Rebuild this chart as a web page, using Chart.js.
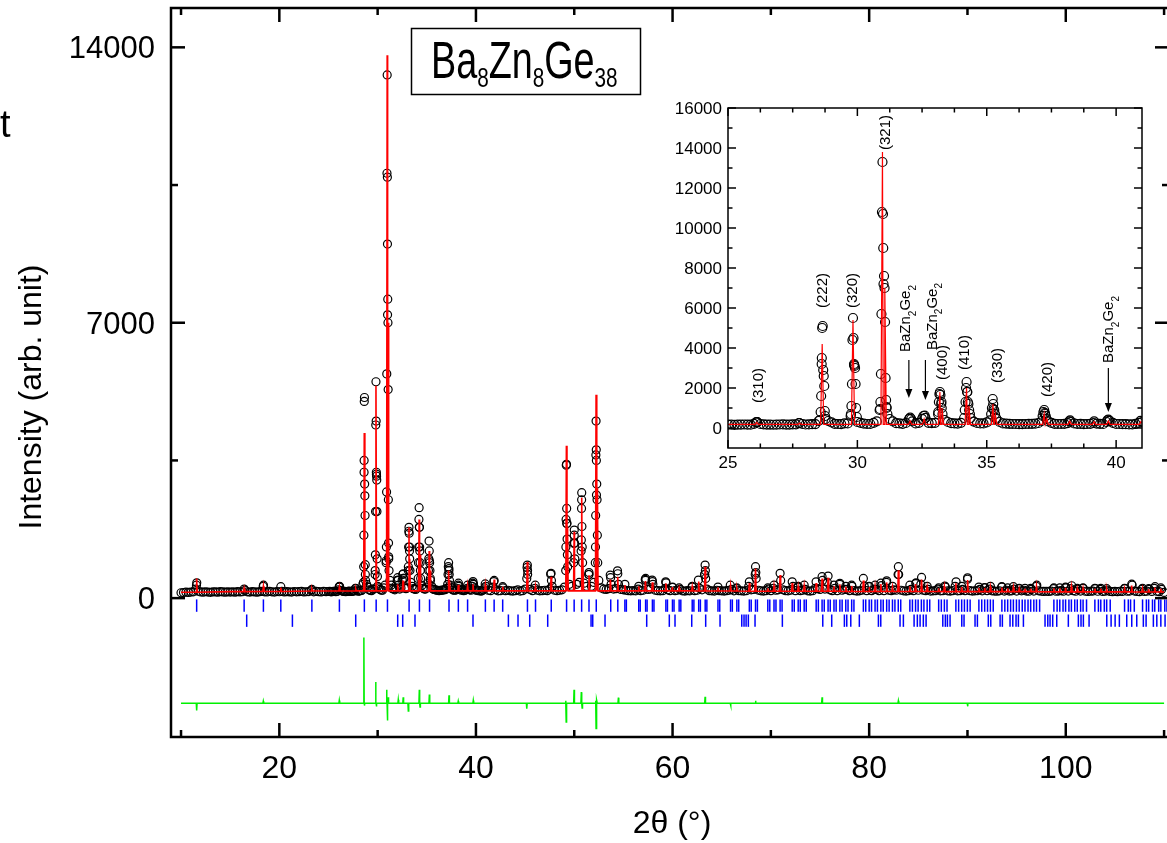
<!DOCTYPE html>
<html>
<head>
<meta charset="utf-8">
<script src="https://cdn.jsdelivr.net/npm/chart.js@4.4.0/dist/chart.umd.min.js"></script>
<style>
  html, body { margin: 0; padding: 0; background: #fff; overflow: hidden; }
  #wrap { position: relative; width: 1167px; height: 843px; overflow: hidden; }
  #main { position: absolute; left: 0; top: 0; }
  #inset { position: absolute; left: 650px; top: 90px; }
</style>
</head>
<body>
<div id="wrap">
  <canvas id="main" width="1172" height="843"></canvas>
  <canvas id="inset" width="510" height="390"></canvas>
</div>
<script>
const FONT = '"Liberation Sans", Arial, Helvetica, sans-serif';

// observed counts on the 2θ scan grid (10° .. 110°, 0.25° apart)
const scanStart = 10, scanStep = 0.25;
const obsScan = [
  136,142,150,146,155,160,230,175,158,150,162,155,148,160,157,150,163,158,152,160,
  155,160,150,165,158,162,200,160,155,163,158,150,165,170,160,158,172,160,155,166,
  162,170,158,165,160,155,168,160,163,170,158,162,167,200,160,172,165,158,170,163,
  168,160,172,165,210,200,170,162,175,168,180,240,175,190,350,600,280,200,230,700,
  300,220,200,330,9000,450,240,210,450,230,460,260,260,1300,300,230,260,1800,320,230,
  280,1200,300,220,200,190,200,210,250,750,260,200,210,300,200,190,210,220,200,350,
  200,190,180,210,300,200,190,280,210,185,190,260,190,200,185,180,190,210,180,190,
  230,700,220,190,250,200,185,190,200,190,230,300,200,190,200,210,280,1900,350,300,
  1600,350,400,2500,380,300,600,300,400,3500,450,260,230,220,240,350,230,240,350,220,
  210,200,190,185,190,185,230,190,200,450,220,230,350,200,190,185,190,250,210,190,
  270,190,200,220,185,180,190,185,280,190,200,250,210,600,230,190,185,180,200,190,
  185,180,190,200,220,185,240,190,185,180,190,300,210,220,500,200,185,180,190,230,
  190,250,200,210,450,210,190,185,200,300,190,280,190,200,220,185,180,190,250,240,
  220,450,230,400,210,190,250,190,350,200,220,220,190,300,190,180,185,200,300,190,
  290,190,220,220,190,320,190,400,200,190,210,200,600,200,185,180,190,220,190,370,
  200,350,200,190,220,180,185,190,230,185,190,280,185,180,190,300,185,190,220,190,
  480,190,180,185,190,220,185,260,190,230,185,180,175,185,280,180,200,180,185,230,
  180,240,185,200,180,175,220,180,300,185,175,170,175,170,180,240,175,180,190,175,
  260,180,240,190,175,220,180,250,175,170,175,180,240,175,220,170,175,200,170,165,
  170,165,175,170,240,175,180,330,180,170,165,220,170,175,220,170,250,175,165,220,
  145
];
// the 25°-41° stretch was also counted half-way between grid steps (25.125 .. 40.875)
const halfStart = 25.125;
const obsHalf = [
  170,165,175,168,290,185,172,168,178,170,182,200,178,195,3500,350,210,190,230,3150,
  260,200,260,950,1050,330,230,250,330,260,500,240,800,400,240,220,500,500,250,230,
  380,450,230,210,200,195,205,215,350,330,210,200,240,230,210,200,250,210,300,260,
  200,190,185,260
];

// extra observed points on the peak profiles [2θ, counts]
const peakObs = [
  [11.57, 330], [11.60, 390], [16.42, 230], [18.36, 300], [18.39, 330], [20.15, 290], [23.31, 220],
  [26.08, 280], [26.12, 300], [27.75, 250],
  [28.55, 400], [28.58, 800], [28.60, 1600], [28.62, 3200], [28.64, 5000], [28.66, 5100], [28.68, 2900],
  [28.70, 2600], [28.72, 2100], [28.74, 850], [28.77, 450],
  [29.74, 600], [29.77, 1100], [29.79, 2200], [29.81, 4400], [29.83, 5500], [29.85, 4500], [29.87, 3200],
  [29.89, 3100], [29.91, 3000], [29.93, 2200], [29.95, 1000], [29.98, 550],
  [30.86, 900], [30.89, 1300], [30.91, 2700], [30.93, 5700], [30.95, 10800], [30.97, 13300], [30.99, 10700],
  [31.01, 7200], [31.03, 7600], [31.05, 7000], [31.07, 5300], [31.09, 2500], [31.11, 1400], [31.13, 1000], [31.16, 700],
  [32.00, 450], [32.04, 520], [32.08, 450], [32.55, 600], [32.60, 620], [32.63, 500],
  [33.12, 700], [33.15, 1300], [33.17, 1700], [33.19, 1800], [33.21, 1650], [33.24, 1200], [33.26, 1000], [33.29, 700],
  [34.15, 900], [34.18, 1300], [34.20, 2000], [34.22, 2300], [34.24, 1800], [34.27, 1300], [34.29, 1200], [34.32, 900], [34.35, 700],
  [35.17, 700], [35.20, 1000], [35.23, 1450], [35.26, 950], [35.29, 900], [35.32, 700], [35.36, 500],
  [37.16, 600], [37.19, 800], [37.22, 900], [37.25, 700], [37.28, 600], [37.31, 450],
  [38.19, 330], [38.22, 380], [39.15, 330], [39.66, 380], [39.70, 420], [39.74, 360], [40.94, 360],
  [41.82, 420], [41.85, 450], [42.72, 290],
  [45.17, 500], [45.20, 780], [45.23, 840], [45.26, 600], [46.03, 330], [47.60, 610], [47.64, 630], [47.68, 450],
  [49.13, 700], [49.15, 1300], [49.17, 2000], [49.19, 3380], [49.21, 3400], [49.23, 2280], [49.25, 1900],
  [49.27, 1500], [49.30, 1100], [49.33, 800],
  [49.94, 900], [49.97, 1390], [50.00, 1730], [50.03, 1400], [50.06, 1000],
  [50.70, 1200], [50.72, 1480], [50.74, 2280], [50.76, 2680], [50.78, 1820], [50.81, 1300], [50.85, 900],
  [51.47, 600], [51.50, 650],
  [52.14, 900], [52.16, 1300], [52.18, 2100], [52.20, 3640], [52.22, 4500], [52.24, 3770], [52.26, 2620],
  [52.29, 2900], [52.32, 2500], [52.35, 1600], [52.39, 900],
  [53.66, 585], [53.70, 520], [54.40, 695], [54.43, 620], [55.15, 350], [56.56, 300],
  [57.22, 475], [57.26, 500], [57.92, 460], [57.95, 420], [59.30, 415], [59.34, 390],
  [59.99, 280], [60.67, 260], [62.00, 300], [62.63, 460],
  [63.28, 600], [63.31, 840], [63.34, 700], [63.37, 500],
  [64.62, 280], [65.87, 330], [66.54, 260], [67.81, 415], [68.41, 600], [68.44, 800], [68.47, 650],
  [69.69, 260], [70.32, 330], [70.94, 630], [72.17, 415], [72.78, 300], [73.39, 330],
  [74.60, 415], [75.21, 545], [75.82, 560], [76.42, 330], [77.02, 375], [77.62, 300], [78.22, 330],
  [79.41, 500], [80.00, 300], [80.60, 330], [81.19, 380], [81.78, 440], [82.37, 300], [82.94, 600], [82.97, 800],
  [84.14, 330], [84.77, 390], [85.33, 525], [85.90, 300], [87.07, 260], [87.70, 305],
  [88.84, 415], [89.41, 300], [90.01, 515], [91.16, 280], [91.75, 270], [92.33, 300],
  [93.49, 290], [94.09, 260], [94.67, 290], [95.26, 250], [95.85, 250], [96.43, 250], [97.05, 330],
  [98.79, 260], [99.39, 260], [99.98, 280], [100.60, 315], [101.17, 250], [101.76, 260],
  [102.96, 250], [103.56, 250], [104.16, 240], [105.98, 250], [106.71, 355], [107.81, 250],
  [108.43, 240], [109.08, 290], [109.67, 260]
];

// calculated profile: background knots and peak maxima [2θ, counts]
const calcBase = [
  [10, 150], [15, 165], [20, 170], [25, 180], [30, 185], [35, 185], [40, 185], [45, 185], [50, 185],
  [55, 185], [60, 185], [65, 180], [70, 175], [75, 175], [80, 170], [85, 170], [90, 165], [95, 165],
  [100, 160], [105, 160], [110, 155]
];
const calcPeaks = [
  [11.59, 500], [16.42, 250], [18.38, 300], [20.15, 270], [23.31, 230], [26.11, 280], [27.77, 240],
  [28.64, 4200], [29.83, 5400], [30.97, 13800], [31.06, 7000],
  [32.04, 350], [32.58, 450], [33.19, 1800], [33.27, 1000], [34.22, 2000], [34.31, 1100],
  [35.24, 1200], [35.33, 700], [37.22, 700], [37.32, 450], [38.21, 340], [39.15, 320], [39.70, 350],
  [40.96, 330], [41.85, 475], [42.72, 290], [45.22, 920], [46.06, 300], [47.64, 545],
  [49.20, 3870], [49.32, 1800], [49.99, 1690], [50.76, 2550], [50.88, 1300], [51.50, 580],
  [52.22, 5170], [52.36, 2790], [53.68, 475], [54.42, 545], [55.15, 330], [56.56, 300],
  [57.24, 435], [57.95, 400], [59.32, 375], [59.99, 280], [60.67, 260], [62.00, 290], [62.66, 420],
  [63.31, 800], [64.62, 270], [65.90, 320], [66.54, 250], [67.81, 380], [68.44, 755],
  [69.69, 250], [70.32, 310], [70.94, 585], [72.17, 380], [72.78, 290], [73.39, 310],
  [74.61, 380], [75.21, 500], [75.82, 520], [76.42, 300], [77.02, 350], [77.62, 290], [78.22, 310],
  [79.41, 450], [80.00, 280], [80.60, 300], [81.19, 360], [81.78, 400], [82.37, 280], [82.97, 710],
  [84.14, 300], [84.72, 360], [85.33, 475], [85.90, 280], [87.07, 250], [87.65, 290],
  [88.82, 380], [89.41, 280], [90.01, 460], [91.16, 260], [91.75, 260], [92.33, 280],
  [93.50, 270], [94.09, 250], [94.67, 270], [95.26, 240], [95.85, 240], [96.43, 240], [97.02, 300],
  [98.79, 250], [99.39, 250], [99.98, 260], [100.57, 290], [101.17, 240], [101.76, 250],
  [102.96, 240], [103.56, 240], [104.16, 230], [105.98, 240], [106.70, 320], [107.81, 240],
  [108.43, 230], [109.05, 270], [109.67, 240]
];

// obs - calc, plotted below the pattern
const diffOffset = -2670;
const diffPeaks = [
  [11.59, -185], [18.37, 50], [26.10, 70],
  [28.60, 1670], [28.67, -60], [29.80, 540], [29.87, -85],
  [30.92, 340], [30.98, -440], [31.07, 150],
  [32.10, 90], [32.60, 150], [33.12, -200], [34.24, 340], [34.31, -100], [35.26, 220],
  [37.26, 200], [38.20, 50], [39.73, 70], [45.17, -140],
  [49.12, 60], [49.18, -480], [49.98, 340], [50.72, 280], [50.80, -120],
  [52.17, 60], [52.22, -645], [52.30, 80], [54.49, 140],
  [63.31, 160], [65.90, -60], [68.44, 60], [75.21, 150], [82.97, 60], [90.01, -80]
];

// Bragg positions: Ba8Zn8Ge38 (Kα1, Kα2) and BaZn2Ge2
const braggKa1 = [
  11.59, 16.42, 18.38, 20.15, 23.31, 26.11, 28.65, 29.85, 31.00, 33.20, 34.25, 35.28, 37.26, 38.21, 39.15,
  40.96, 41.85, 42.72, 45.24, 46.06, 47.66, 49.22, 49.99, 50.75, 51.50, 52.24, 53.71, 54.43, 55.15, 56.56,
  57.26, 57.95, 59.32, 59.99, 60.67, 62.00, 62.66, 63.32, 64.62, 65.90, 66.54, 67.81, 68.44, 69.69, 70.32,
  70.94, 72.17, 72.78, 73.39, 74.61, 75.21, 75.82, 76.42, 77.02, 77.62, 78.22, 79.41, 80.00, 80.60, 81.19,
  81.78, 82.37, 82.96, 84.14, 84.72, 85.31, 85.90, 87.07, 87.65, 88.82, 89.41, 89.99, 91.16, 91.75, 92.33,
  93.50, 94.09, 94.67, 95.26, 95.85, 96.43, 97.02, 98.79, 99.39, 99.98, 100.57, 101.17, 101.76, 102.96,
  103.56, 104.16, 105.98, 106.59, 107.81, 108.43, 109.05, 109.67, 110.29
];
const braggKa2 = [
  55.30, 56.71, 57.41, 58.11, 59.48, 60.15, 60.84, 62.17, 62.83, 63.49, 64.80, 66.08, 66.73, 68.00, 68.63,
  69.89, 70.52, 71.14, 72.38, 72.99, 73.60, 74.83, 75.43, 76.04, 76.64, 77.25, 77.85, 78.45, 79.65, 80.24,
  80.84, 81.43, 82.03, 82.62, 83.21, 84.40, 84.98, 85.57, 86.16, 87.34, 87.92, 89.10, 89.69, 90.27, 91.45,
  92.04, 92.62, 93.80, 94.39, 94.98, 95.57, 96.16, 96.75, 97.34, 99.12, 99.72, 100.32, 100.91, 101.51,
  102.11, 103.32, 103.92, 104.52, 106.36, 106.97, 108.20, 108.82, 109.45, 110.07
];
const braggSecond = [
  16.68, 21.33, 27.77, 32.04, 32.55, 33.80, 39.70, 43.30, 44.28, 45.47, 47.30, 51.71, 51.88, 53.13, 57.37,
  59.67, 60.25, 61.95, 63.37, 64.83, 67.04, 67.27, 67.48, 67.71, 68.39, 71.17, 75.28, 76.19, 77.48, 77.72,
  78.13, 79.00, 80.94, 81.18, 83.14, 83.48, 84.57, 84.90, 85.18, 85.51, 85.79, 87.49, 87.75, 87.96, 88.23,
  89.42, 89.65, 90.77, 91.01, 92.12, 92.37, 93.32, 93.55, 94.33, 94.61, 94.94, 95.18, 95.69, 97.89, 98.17,
  98.40, 98.67, 99.08, 100.26, 101.28, 101.55, 101.79, 102.37, 104.17, 104.61, 105.02, 105.45, 106.20,
  106.71, 107.22, 107.89, 108.17, 108.91, 109.26, 109.67, 110.10
];

// axis ticks
const xLabels = [20, 40, 60, 80, 100];
const xMinor = [10, 30, 50, 70, 90, 110];
const yLabels = [0, 7000, 14000];
const yMinor = [3500, 10500];
const insetXLabels = [25, 30, 35, 40];
const insetXMinor = [26.25, 27.5, 28.75, 31.25, 32.5, 33.75, 36.25, 37.5, 38.75];
const insetYLabels = [0, 2000, 4000, 6000, 8000, 10000, 12000, 14000, 16000];
const insetYMinor = [1000, 3000, 5000, 7000, 9000, 11000, 13000, 15000];

// inset annotations: [2θ, intensity where text starts, text]
const insetLabels = [
  [26.21, 1250, '(310)'], [28.66, 6000, '(222)'], [29.84, 6000, '(320)'], [31.11, 13900, '(321)'],
  [31.88, 3800, 'BaZn_2Ge_2'], [32.90, 3900, 'BaZn_2Ge_2'], [33.31, 2400, '(400)'], [34.16, 2900, '(410)'],
  [35.43, 2250, '(330)'], [37.37, 1550, '(420)'], [39.72, 3250, 'BaZn_2Ge_2']
];
// arrows [2θ, from, to]
const insetArrows = [[31.99, 3400, 1500], [32.63, 3400, 1400], [39.70, 3000, 800]];

const ROW1 = -190, ROW2 = -573;   // tick rows under the pattern
const SPIKE = 0.06;

// ---- build the point lists ----
const pts = pairs => pairs.map(([x, y]) => ({ x, y }));
const obsPoints = obsScan.map((y, i) => ({ x: scanStart + i * scanStep, y }))
  .concat(obsHalf.map((y, i) => ({ x: halfStart + i * scanStep, y })))
  .concat(pts(peakObs));

function baseAt(t) {
  let best = calcBase[0];
  for (const k of calcBase) if (Math.abs(k[0] - t) < Math.abs(best[0] - t)) best = k;
  return best[1];
}
const calcPoints = pts(calcBase);
calcPeaks.forEach(([t, h]) => {
  const b = baseAt(t);
  calcPoints.push({ x: t - SPIKE, y: b }, { x: t, y: h }, { x: t + SPIKE, y: b });
});
calcPoints.sort((a, b) => a.x - b.x);

const diffPoints = [{ x: 10, y: diffOffset }, { x: 110, y: diffOffset }];
diffPeaks.forEach(([t, d]) => {
  diffPoints.push({ x: t - 0.04, y: diffOffset }, { x: t, y: diffOffset + d }, { x: t + 0.04, y: diffOffset });
});
diffPoints.sort((a, b) => a.x - b.x);

const row = (list, y) => list.map(x => ({ x, y }));

// ---- drawing helpers ----
function drawRich(ctx, str, x, y, size, subSize, drop, squeeze) {
  const parts = str.split(/_(\d+)/);
  ctx.save();
  ctx.translate(x, y);
  ctx.scale(squeeze || 1, 1);
  ctx.textAlign = 'left';
  let cx = 0;
  parts.forEach((p, i) => {
    if (!p) return;
    const sub = i % 2 === 1;
    ctx.font = `${sub ? subSize : size}px ${FONT}`;
    ctx.fillText(p, cx, sub ? drop : 0);
    cx += ctx.measureText(p).width;
  });
  ctx.restore();
}

// box with inward ticks on all four sides, numbers on bottom and left
const frame = {
  id: 'frame',
  afterDatasetsDraw(chart, _args, o) {
    const { ctx, chartArea: a } = chart;
    const x = chart.scales.x, y = chart.scales.y;
    ctx.save();
    ctx.strokeStyle = '#000';
    ctx.fillStyle = '#000';
    ctx.lineWidth = o.lineWidth;
    const seg = (x1, y1, x2, y2) => { ctx.beginPath(); ctx.moveTo(x1, y1); ctx.lineTo(x2, y2); ctx.stroke(); };
    const xt = (vals, len) => vals.forEach(v => {
      const p = x.getPixelForValue(v);
      seg(p, a.bottom, p, a.bottom - len); seg(p, a.top, p, a.top + len);
    });
    const yt = (vals, len) => vals.forEach(v => {
      const p = y.getPixelForValue(v);
      seg(a.left, p, a.left + len, p); seg(a.right, p, a.right - len, p);
    });
    xt(o.xMajor, o.major); xt(o.xMinor, o.minor);
    yt(o.yMajor, o.major); yt(o.yMinor, o.minor);
    ctx.strokeRect(a.left, a.top, a.right - a.left, a.bottom - a.top);

    ctx.textBaseline = 'alphabetic';
    ctx.font = `${o.xSize}px ${FONT}`;
    ctx.textAlign = 'center';
    o.xMajor.forEach(v => ctx.fillText(String(v), x.getPixelForValue(v), a.bottom + o.xDrop));
    ctx.font = `${o.ySize}px ${FONT}`;
    ctx.textAlign = 'right';
    o.yMajor.forEach(v => ctx.fillText(String(v), a.left - o.yGap, y.getPixelForValue(v) + o.yShift));
    ctx.restore();
  }
};

const mainNotes = {
  id: 'mainNotes',
  afterDraw(chart) {
    const ctx = chart.ctx;
    ctx.save();
    ctx.fillStyle = '#000';
    ctx.strokeStyle = '#000';
    ctx.lineWidth = 1.5;
    ctx.strokeRect(411.5, 28.5, 229, 66);
    ctx.textBaseline = 'alphabetic';
    drawRich(ctx, 'Ba_8Zn_8Ge_38', 431, 78, 51, 28, 9, 0.74);

    ctx.font = `32px ${FONT}`;
    ctx.textAlign = 'center';
    ctx.fillText('2θ (°)', 672, 833);
    ctx.save();
    ctx.translate(41, 397);
    ctx.rotate(-Math.PI / 2);
    ctx.fillText('Intensity (arb. unit)', 0, 0);
    ctx.restore();

    ctx.textAlign = 'left';
    ctx.font = `38px ${FONT}`;
    ctx.fillText('t', 0, 137);
    ctx.restore();
  }
};

const insetNotes = {
  id: 'insetNotes',
  afterDatasetsDraw(chart) {
    const { ctx, scales: { x, y } } = chart;
    ctx.save();
    ctx.fillStyle = '#000';
    ctx.strokeStyle = '#000';
    ctx.textBaseline = 'middle';
    insetLabels.forEach(([t, v, text]) => {
      ctx.save();
      ctx.translate(x.getPixelForValue(t), y.getPixelForValue(v));
      ctx.rotate(-Math.PI / 2);
      drawRich(ctx, text, 0, 0, 15, 10, 7);
      ctx.restore();
    });
    ctx.lineWidth = 1.2;
    insetArrows.forEach(([t, from, to]) => {
      const px = x.getPixelForValue(t), y1 = y.getPixelForValue(from), y2 = y.getPixelForValue(to);
      ctx.beginPath(); ctx.moveTo(px, y1); ctx.lineTo(px, y2 - 6); ctx.stroke();
      ctx.beginPath(); ctx.moveTo(px, y2); ctx.lineTo(px - 3.5, y2 - 9); ctx.lineTo(px + 3.5, y2 - 9); ctx.closePath(); ctx.fill();
    });
    ctx.restore();
  }
};

Chart.defaults.font.family = FONT;
Chart.defaults.color = '#000';

const lineSet = (data, color, width, order) => ({
  data, showLine: true, borderColor: color, borderWidth: width, pointRadius: 0, pointHoverRadius: 0,
  fill: false, tension: 0, order
});
const circleSet = (data, r, order) => ({
  data, showLine: false, pointStyle: 'circle', pointRadius: r, pointHoverRadius: r,
  pointBorderColor: '#000', pointBackgroundColor: 'rgba(0,0,0,0)', pointBorderWidth: 1.2, order
});
const tickSet = (data) => ({
  data, showLine: false, pointStyle: 'line', rotation: 90, pointRadius: 6.2, pointHoverRadius: 6.2,
  pointBorderColor: '#0000ff', pointBorderWidth: 1.5, order: 3
});
const noLegend = { legend: { display: false }, tooltip: { enabled: false } };

// fixed plot box: the numbers are drawn by the frame plugin
const fixX = h => s => { s.height = h; s.paddingLeft = 0; s.paddingRight = 0; };
const fixY = w => s => { s.width = w; s.paddingTop = 0; s.paddingBottom = 0; };
const hidden = { grid: { display: false, drawTicks: false }, border: { display: false }, ticks: { display: false } };

new Chart(document.getElementById('main'), {
  type: 'scatter',
  data: {
    datasets: [
      lineSet(calcPoints, '#ff0000', 1.6, 0),
      circleSet(obsPoints, 4, 1),
      lineSet(diffPoints, '#00f000', 1.5, 2),
      tickSet(row(braggKa1, ROW1)),
      tickSet(row(braggKa2, ROW1)),
      tickSet(row(braggSecond, ROW2))
    ]
  },
  options: {
    responsive: false,
    animation: false,
    devicePixelRatio: 1,
    layout: { autoPadding: false, padding: { left: 0, top: 8, right: 3, bottom: 0 } },
    plugins: {
      ...noLegend,
      frame: {
        lineWidth: 2.5, major: 14, minor: 7, xMajor: xLabels, xMinor, yMajor: yLabels, yMinor,
        xSize: 32, xDrop: 41, ySize: 31, yGap: 16, yShift: 11
      }
    },
    scales: {
      x: { type: 'linear', min: 8.98, max: 110.5, ...hidden, afterFit: fixX(106) },
      y: { type: 'linear', min: -3530, max: 15000, ...hidden, afterFit: fixY(171) }
    }
  },
  plugins: [frame, mainNotes]
});

new Chart(document.getElementById('inset'), {
  type: 'scatter',
  data: {
    datasets: [
      lineSet(calcPoints, '#ff0000', 1.2, 0),
      circleSet(obsPoints, 4.5, 1)
    ]
  },
  options: {
    responsive: false,
    animation: false,
    devicePixelRatio: 1,
    layout: { autoPadding: false, padding: { left: 0, top: 18, right: 18, bottom: 0 } },
    plugins: {
      ...noLegend,
      frame: {
        lineWidth: 1.5, major: 8, minor: 4.5,
        xMajor: insetXLabels, xMinor: insetXMinor, yMajor: insetYLabels, yMinor: insetYMinor,
        xSize: 17, xDrop: 20, ySize: 17, yGap: 6, yShift: 6
      }
    },
    scales: {
      x: { type: 'linear', min: 25, max: 41, ...hidden, afterFit: fixX(32) },
      y: { type: 'linear', min: -1000, max: 16000, ...hidden, afterFit: fixY(78) }
    }
  },
  plugins: [frame, insetNotes]
});
</script>
</body>
</html>
